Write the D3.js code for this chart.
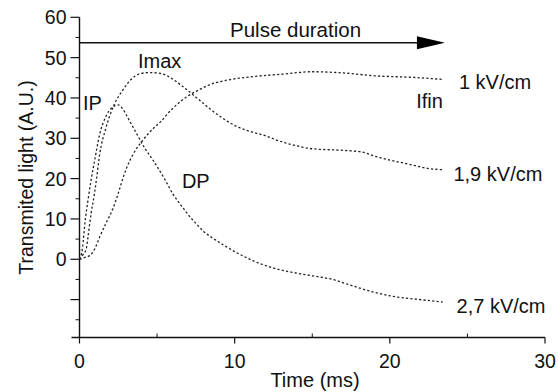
<!DOCTYPE html>
<html>
<head>
<meta charset="utf-8">
<script src="https://cdn.jsdelivr.net/npm/d3@7"></script>
<style>
  html, body { margin: 0; padding: 0; background: #fff; }
  svg { display: block; }
  text { font-family: "Liberation Sans", Arial, Helvetica, sans-serif; fill: #111; }
</style>
</head>
<body>
<svg id="chart" width="558" height="392"></svg>
<script>
// Transmitted light traces for three field strengths (time in ms, intensity in A.U.)
const t1kV = [0, 0.3, 0.65, 1.0, 1.3, 1.7, 2.15, 2.5, 2.75, 3.0, 3.45, 4.1, 4.8, 5.2, 5.9, 6.5, 7.0, 7.7, 8.4, 9.5, 11.2, 13.1, 15, 17, 19, 21.5, 23.4];
const v1kV = [0, 0.4, 0.9, 2.7, 5.5, 8.9, 12.5, 16.4, 19.5, 22.3, 26.0, 29.6, 32.6, 34.0, 37.0, 39.1, 40.5, 42.0, 43.3, 44.4, 45.3, 45.9, 46.5, 46.2, 45.5, 45.1, 44.6];

const t19kV = [0, 0.2, 0.43, 0.55, 0.75, 0.97, 1.1, 1.3, 1.7, 2.25, 2.8, 3.3, 3.9, 4.5, 5.2, 5.6, 6.0, 6.5, 7.0, 7.5, 8.0, 8.5, 9.0, 9.5, 10.1, 10.75, 12.0, 12.9, 13.8, 15, 17, 18.2, 19, 20, 21.2, 22.5, 23.4];
const v19kV = [0, 1.0, 2.5, 5.6, 11.4, 16.4, 20.0, 26.0, 32.5, 38.5, 42.0, 44.5, 46.0, 46.3, 46.1, 45.6, 44.7, 43.3, 41.8, 40.2, 38.6, 37.0, 35.6, 34.3, 33.0, 32.0, 30.6, 29.3, 28.3, 27.4, 27.0, 26.6, 25.6, 24.6, 23.6, 22.5, 22.2];

const t27kV = [0, 0.2, 0.35, 0.55, 0.75, 1.0, 1.3, 1.7, 2.15, 2.5, 2.8, 3.1, 3.66, 4.2, 4.8, 5.5, 6.0, 6.7, 7.1, 7.5, 8.0, 8.6, 9.25, 10, 10.6, 11.2, 11.8, 12.9, 13.8, 15, 16.3, 17.6, 18.9, 20.2, 21.7, 23.4];
const v27kV = [0, 3.0, 9.0, 14.7, 19.7, 25.0, 31.0, 35.4, 37.8, 38.3, 37.2, 35.2, 31.3, 27.6, 24.2, 19.8, 16.3, 12.6, 10.6, 8.9, 6.9, 5.2, 3.6, 1.9, 0.7, -0.4, -1.3, -2.6, -3.3, -4.1, -5.0, -6.6, -8.1, -9.2, -9.9, -10.6];

// Axis ticks
const xMajorTicks = [0, 10, 20, 30];
const xMinorTicks = [5, 15, 25];
const yMajorTicks = [-10, 0, 10, 20, 30, 40, 50, 60];
const yTickLabels = ["", "0", "10", "20", "30", "40", "50", "60"];
const yMinorTicks = [-15, -5, 5, 15, 25, 35, 45, 55];

// Annotations: [text, time, intensity]
const curveLabels = [
  ["1 kV/cm", 24.45, 42.2],
  ["1,9 kV/cm", 24.1, 19.4],
  ["2,7 kV/cm", 24.3, -13.3]
];
const pointLabels = [
  ["Imax", 3.77, 47.4],
  ["IP", 0.23, 37.0],
  ["DP", 6.6, 17.7],
  ["Ifin", 21.7, 37.5]
];
const pulseLabel = ["Pulse duration", 9.7, 55.1];
const pulseSpan = [0, 23.55];
const pulseLevel = 53.7;

const svg = d3.select("#chart");
const x = d3.scaleLinear().domain([0, 30]).range([79.5, 545]);
const y = d3.scaleLinear().domain([-19.4, 60]).range([337.5, 17.3]);

// Y axis
const yAxis = svg.append("g").attr("stroke", "#111");
yAxis.append("line").attr("x1", x(0)).attr("x2", x(0))
  .attr("y1", y(60)).attr("y2", y(-19.4)).attr("stroke-width", 1.4);
yAxis.selectAll("line.maj").data(yMajorTicks).join("line").attr("class", "maj")
  .attr("x1", x(0) - 9).attr("x2", x(0)).attr("y1", d => y(d)).attr("y2", d => y(d)).attr("stroke-width", 1.2);
yAxis.selectAll("line.min").data(yMinorTicks).join("line").attr("class", "min")
  .attr("x1", x(0) - 4).attr("x2", x(0)).attr("y1", d => y(d)).attr("y2", d => y(d)).attr("stroke-width", 1);
svg.append("g").selectAll("text").data(yMajorTicks).join("text")
  .attr("x", x(0) - 13).attr("y", d => y(d)).attr("dy", "0.36em")
  .attr("text-anchor", "end").style("font-size", "19.5px")
  .text((d, i) => yTickLabels[i]);

// X axis
const xAxis = svg.append("g").attr("stroke", "#111");
xAxis.append("line").attr("x1", x(0) - 8).attr("x2", x(30))
  .attr("y1", y(-19.4)).attr("y2", y(-19.4)).attr("stroke-width", 1.4);
xAxis.selectAll("line.maj").data(xMajorTicks).join("line").attr("class", "maj")
  .attr("x1", d => x(d)).attr("x2", d => x(d))
  .attr("y1", y(-19.4)).attr("y2", y(-19.4) + 6).attr("stroke-width", 1.2);
xAxis.selectAll("line.min").data(xMinorTicks).join("line").attr("class", "min")
  .attr("x1", d => x(d)).attr("x2", d => x(d))
  .attr("y1", y(-19.4)).attr("y2", y(-19.4) - 4).attr("stroke-width", 1);
svg.append("g").selectAll("text").data(xMajorTicks).join("text")
  .attr("x", d => x(d)).attr("y", 368)
  .attr("text-anchor", "middle").style("font-size", "19.5px")
  .text(d => d);

// Axis titles
svg.append("text").attr("x", 315).attr("y", 387).attr("text-anchor", "middle")
  .style("font-size", "20px").text("Time (ms)");
svg.append("text").attr("transform", "translate(33,177.5) rotate(-90)")
  .attr("text-anchor", "middle").style("font-size", "19.5px")
  .text("Transmited light (A.U.)");

// Pulse duration arrow
const headLen = 28, headHalf = 6.5;
svg.append("line")
  .attr("x1", x(pulseSpan[0])).attr("x2", x(pulseSpan[1]) - headLen + 2)
  .attr("y1", y(pulseLevel)).attr("y2", y(pulseLevel))
  .attr("stroke", "#111").attr("stroke-width", 1.6);
svg.append("path")
  .attr("d", `M${x(pulseSpan[1])},${y(pulseLevel)} L${x(pulseSpan[1]) - headLen},${y(pulseLevel) - headHalf} L${x(pulseSpan[1]) - headLen},${y(pulseLevel) + headHalf} Z`)
  .attr("fill", "#000");
svg.append("text").attr("x", x(pulseLabel[1])).attr("y", y(pulseLabel[2]))
  .style("font-size", "20.5px").text(pulseLabel[0]);

// Traces
const line = d3.line().x(d => x(d[0])).y(d => y(d[1])).curve(d3.curveMonotoneX);
const traces = [
  d3.zip(t1kV, v1kV),
  d3.zip(t19kV, v19kV),
  d3.zip(t27kV, v27kV)
];
svg.append("g").selectAll("path").data(traces).join("path")
  .attr("d", line)
  .attr("fill", "none").attr("stroke", "#222")
  .attr("stroke-width", 1.3).attr("stroke-dasharray", "2.2,2.2");

// Labels
svg.append("g").selectAll("text").data(curveLabels.concat(pointLabels)).join("text")
  .attr("x", d => x(d[1])).attr("y", d => y(d[2]))
  .style("font-size", "20px").text(d => d[0]);
</script>
</body>
</html>
